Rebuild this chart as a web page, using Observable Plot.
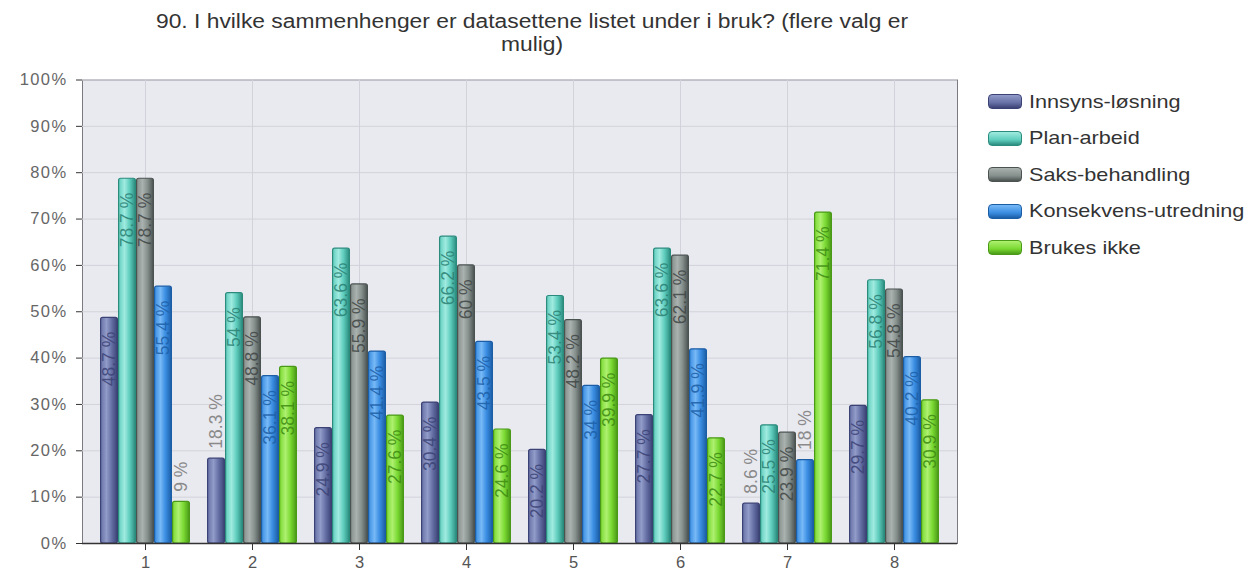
<!DOCTYPE html>
<html><head><meta charset="utf-8">
<script src="https://cdn.jsdelivr.net/npm/d3@7"></script>
<script src="https://cdn.jsdelivr.net/npm/@observablehq/plot@0.6"></script>
<style>
body{margin:0;background:#fff;font-family:"Liberation Sans",Arial,sans-serif;}
#wrap{position:relative;width:1251px;height:575px;overflow:hidden}
#title{height:62px;position:relative}
#title div{position:absolute;left:32px;width:1000px;top:10px;text-align:center;font-size:19.5px;line-height:23px;color:#333;transform:scaleX(1.17);transform-origin:500px 0}
#legend{position:absolute;left:988px;top:83.5px}
.row{height:36.5px;display:flex;align-items:center;white-space:nowrap}
.sw{width:32px;height:13px;border-radius:4px;border:1.5px solid}
.lt{display:inline-block;margin-left:7px;font-size:18.5px;color:#333;transform:scaleX(1.17);transform-origin:0 50%}
svg g[aria-label="y-axis tick label"] text{letter-spacing:1.4px}
</style></head>
<body><div id="wrap">
<div id="title"><div>90. I hvilke sammenhenger er datasettene listet under i bruk? (flere valg er<br>mulig)</div></div>
<div id="chart"></div>
<div id="legend"></div>
</div>
<script>
const groups = ["1","2","3","4","5","6","7","8"];
const series = ["Innsyns-løsning","Plan-arbeid","Saks-behandling","Konsekvens-utredning","Brukes ikke"];
const innsyns    = [48.7, 18.3, 24.9, 30.4, 20.2, 27.7,  8.6, 29.7];
const plan       = [78.7, 54,   63.6, 66.2, 53.4, 63.6, 25.5, 56.8];
const saks       = [78.7, 48.8, 55.9, 60,   48.2, 62.1, 23.9, 54.8];
const konsekvens = [55.4, 36.1, 41.4, 43.5, 34,   41.9, 18,   40.2];
const brukes     = [9,    38.1, 27.6, 24.6, 39.9, 22.7, 71.4, 30.9];
const yTicks = [0,10,20,30,40,50,60,70,80,90,100];

const values = [innsyns, plan, saks, konsekvens, brukes];
const base   = ["#6670a5","#5fcdbd","#858f8c","#3a8de2","#7ad932"];
const light  = ["#929cc9","#a0ebe0","#aab2af","#77b9f6","#aef070"];
const edge   = ["#3b4275","#2b8c7e","#4b5351","#1c5ea6","#4a9a18"];
const labelC = ["#3b4275","#2a7f72","#3f4544","#1c5ea6","#3d8a12"];

const rows = groups.flatMap((g, i) => series.map((s, k) => ({group: g, series: s, k, value: values[k][i]})));

const W = 1251, mL = 82, mR = 294, pI = 0.159, pO = 0.168;
const step = (W - mL - mR) / (groups.length - pI + 2 * pO);
const barW = step * (1 - pI) / series.length;

const marks = [
  Plot.frame({fill: "#e9e9f0", stroke: "#7a7a80"}),
  Plot.gridY(yTicks, {stroke: "#d2d2da", strokeOpacity: 1}),
  Plot.gridX({stroke: "#d2d2da", strokeOpacity: 1})
];
series.forEach((s, k) => {
  const d = rows.filter(r => r.k === k);
  marks.push(Plot.barY(d, {x: "group", y: "value", fill: `url(#grad${k})`, stroke: edge[k], strokeWidth: 1.2,
    insetLeft: k * barW + 0.6, insetRight: (series.length - 1 - k) * barW + 0.6, rx: 2}));
});
series.forEach((s, k) => {
  const d = rows.filter(r => r.k === k);
  marks.push(Plot.text(d.filter(r => r.value >= 20), {x: "group", y: "value", text: r => `${r.value} %`,
    rotate: -90, textAnchor: "end", dx: (k - 2) * barW, dy: 14, fill: labelC[k], fillOpacity: 0.85, fontSize: 17.5}));
  marks.push(Plot.text(d.filter(r => r.value < 20), {x: "group", y: "value", text: r => `${r.value} %`,
    rotate: -90, textAnchor: "start", dx: (k - 2) * barW, dy: -10, fill: "#8a8a8a", fontSize: 17.5}));
});
marks.push(Plot.ruleY([0], {stroke: "#333", strokeWidth: 1.3}));
marks.push(Plot.axisY({ticks: yTicks, tickFormat: d => d + "%", tickSize: 6, tickPadding: 9, stroke: "#333", fill: "#666", fontSize: 16.5}));
marks.push(Plot.axisX({tickSize: 7, tickPadding: 6, stroke: "#333", fill: "#555", fontSize: 16.5}));

const svg = Plot.plot({
  width: W, height: 513,
  marginTop: 17.5, marginBottom: 32, marginLeft: mL, marginRight: mR,
  style: {fontFamily: "'Liberation Sans', Arial, sans-serif", fontSize: "16.5px", color: "#555", background: "transparent"},
  x: {domain: groups, paddingInner: pI, paddingOuter: pO, label: null},
  y: {domain: [0, 100], label: null},
  marks
});

const defs = d3.select(svg).insert("defs", ":first-child");
series.forEach((s, k) => {
  const g = defs.append("linearGradient").attr("id", `grad${k}`).attr("x1", 0).attr("x2", 1).attr("y1", 0).attr("y2", 0);
  g.append("stop").attr("offset", "0%").attr("stop-color", base[k]);
  g.append("stop").attr("offset", "35%").attr("stop-color", light[k]);
  g.append("stop").attr("offset", "65%").attr("stop-color", base[k]);
  g.append("stop").attr("offset", "100%").attr("stop-color", edge[k]);
});
document.getElementById("chart").append(svg);

const leg = d3.select("#legend");
series.forEach((s, k) => {
  const r = leg.append("div").attr("class", "row");
  r.append("div").attr("class", "sw")
    .style("border-color", edge[k])
    .style("background", `linear-gradient(to bottom, ${light[k]}, ${base[k]} 60%, ${edge[k]})`);
  r.append("span").attr("class", "lt").text(s);
});
</script>
</body></html>
